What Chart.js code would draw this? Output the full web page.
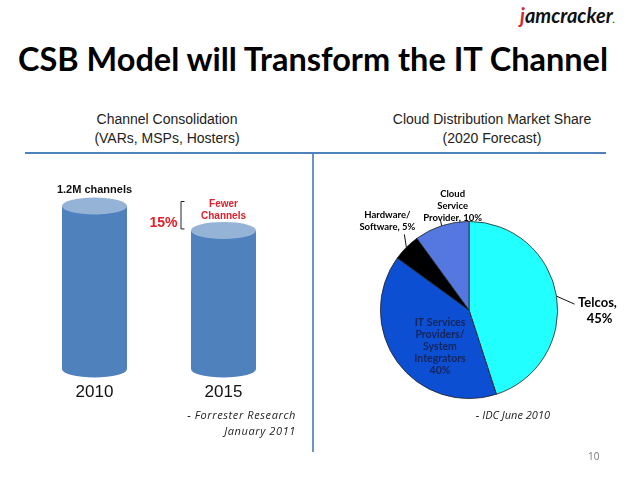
<!DOCTYPE html>
<html>
<head>
<meta charset="utf-8">
<script src="https://cdn.jsdelivr.net/npm/chart.js@4.4.1/dist/chart.umd.min.js"></script>
<style>
  body { margin: 0; background: #fff; }
  #slide { position: relative; width: 638px; height: 479px; overflow: hidden; background: #fff; }
  .txt { position: absolute; white-space: nowrap; }
  #title { left: 18px; top: 39px; font: bold 32px Lato, "Open Sans", sans-serif; color: #000; transform-origin: 0 0; }
  .sub { font: 14px "Liberation Sans", Arial, sans-serif; color: #222; text-align: center; line-height: 19px; }
  .src { font: italic 11px "Open Sans", sans-serif; color: #222; text-align: right; line-height: 16px; }
  #hline { position: absolute; left: 25px; top: 152px; width: 581px; height: 2px; background: #4f81bd; }
  #vline { position: absolute; left: 312px; top: 153px; width: 2px; height: 299px; background: #4f81bd; opacity: 0.85; }
  canvas { position: absolute; }
</style>
</head>
<body>
<div id="slide">
  <div class="txt" style="left:520px; top:3px; font: italic bold 20px Lato, sans-serif;"><span style="color:#d7262e">j</span><span style="color:#111">amcracker</span><span style="color:#111; font-size:9px">.</span></div>
  <div class="txt" id="title">CSB Model will Transform the IT Channel</div>
  <div class="txt sub" style="left:67px; top:110px; width:200px;">Channel Consolidation<br>(VARs, MSPs, Hosters)</div>
  <div class="txt sub" style="left:382px; top:110px; width:220px;">Cloud Distribution Market Share<br>(2020 Forecast)</div>
  <div id="hline"></div>
  <div id="vline"></div>
  <canvas id="barChart" width="315" height="479" style="left:0; top:0; width:315px; height:479px;"></canvas>
  <canvas id="pieChart" width="323" height="290" style="left:315px; top:155px; width:323px; height:290px;"></canvas>
  <div class="txt src" style="left:150px; top:407px; width:146px; letter-spacing:0.6px;">- Forrester Research<br>January 2011</div>
  <div class="txt src" style="left:470px; top:407px; width:80px;">- IDC June 2010</div>
  <div class="txt" style="left:588px; top:449px; font: 10px 'Open Sans', sans-serif; color:#777;">10</div>
</div>

<script>
// Channel consolidation (millions of channels)
const years = ["2010", "2015"];
const channels = [1.2, 1.02];

// Cloud distribution market share (2020 forecast)
const shareLabels = ["Telcos", "IT Services Providers/ System Integrators", "Hardware/ Software", "Cloud Service Provider"];
const shareValues = [45, 40, 5, 10];
const shareColors = ["#22ffff", "#0d4fd3", "#000000", "#5577e0"];

// Squeeze the title to the slide width (Calibri is narrower than Lato)
const title = document.getElementById("title");
const titleWidth = title.getBoundingClientRect().width;
title.style.transform = `scaleX(${590 / titleWidth})`;

// Draw each bar as a cylinder
const cylinderPlugin = {
  id: "cylinders",
  afterDatasetsDraw(chart) {
    const ctx = chart.ctx;
    const meta = chart.getDatasetMeta(0);
    meta.data.forEach((bar, i) => {
      const { x, y, base, width } = bar.getProps(["x", "y", "base", "width"], true);
      const rx = width / 2;
      const ry = 8.5;
      ctx.save();
      ctx.fillStyle = "#4f81bd";
      ctx.beginPath();
      ctx.moveTo(x - rx, y);
      ctx.lineTo(x - rx, base);
      ctx.ellipse(x, base, rx, ry, 0, Math.PI, 0, true);
      ctx.lineTo(x + rx, y);
      ctx.closePath();
      ctx.fill();

      ctx.fillStyle = "#95b3d7";
      ctx.beginPath();
      ctx.ellipse(x, y, rx, ry, 0, 0, Math.PI * 2);
      ctx.fill();

      // year label
      ctx.fillStyle = "#111";
      ctx.font = "17px 'Liberation Sans', Arial, sans-serif";
      ctx.textAlign = "center";
      ctx.textBaseline = "middle";
      ctx.fillText(years[i], x, base + 23);
      ctx.restore();
    });

    const b0 = meta.data[0];
    const b1 = meta.data[1];
    ctx.save();
    ctx.textAlign = "center";
    ctx.textBaseline = "middle";
    ctx.fillStyle = "#111";
    ctx.font = "bold 11px 'Liberation Sans', Arial, sans-serif";
    ctx.fillText("1.2M channels", b0.x, b0.y - 16);

    ctx.fillStyle = "#e0202a";
    ctx.font = "bold 10px 'Liberation Sans', Arial, sans-serif";
    ctx.fillText("Fewer", b1.x, b0.y - 2);
    ctx.fillText("Channels", b1.x, b0.y + 10);

    ctx.font = "bold 14px 'Liberation Sans', Arial, sans-serif";
    ctx.textAlign = "right";
    ctx.fillText("15%", b1.x - 46, b1.y - 7);

    // bracket
    const bx = b1.x - 43;
    ctx.strokeStyle = "#222";
    ctx.lineWidth = 1;
    ctx.beginPath();
    ctx.moveTo(bx + 4, b0.y - 4.5);
    ctx.lineTo(bx + 0.5, b0.y - 4.5);
    ctx.lineTo(bx + 0.5, b1.y - 1.5);
    ctx.lineTo(bx + 4, b1.y - 1.5);
    ctx.stroke();
    ctx.restore();
  },
};

new Chart(document.getElementById("barChart").getContext("2d"), {
  type: "bar",
  data: {
    labels: years,
    datasets: [
      {
        data: channels,
        backgroundColor: "rgba(0,0,0,0)",
        borderWidth: 0,
        barThickness: 65,
      },
    ],
  },
  options: {
    responsive: false,
    animation: false,
    layout: { padding: { left: 30, right: 27, top: 206, bottom: 110 } },
    plugins: { legend: { display: false }, tooltip: { enabled: false } },
    scales: {
      x: { display: false },
      y: { display: false, min: 0, max: 1.2 },
    },
  },
  plugins: [cylinderPlugin],
});

// Pie labels with leader lines
const pieLabelPlugin = {
  id: "pieLabels",
  afterDatasetsDraw(chart) {
    const ctx = chart.ctx;
    const arcs = chart.getDatasetMeta(0).data;
    const edge = (arc, r) => {
      const mid = (arc.startAngle + arc.endAngle) / 2;
      return [arc.x + Math.cos(mid) * r, arc.y + Math.sin(mid) * r];
    };
    ctx.save();
    ctx.textAlign = "center";
    ctx.textBaseline = "middle";
    ctx.strokeStyle = "#111";
    ctx.lineWidth = 1;

    // Telcos
    let a = arcs[0];
    let [ex, ey] = edge(a, a.outerRadius);
    ctx.beginPath();
    ctx.moveTo(ex, ey);
    ctx.lineTo(ex + 18, ey + 8);
    ctx.stroke();
    ctx.fillStyle = "#000";
    ctx.font = "bold 13px Lato, 'Open Sans', sans-serif";
    ctx.fillText("Telcos,", ex + 41, ey + 7);
    ctx.fillText(shareValues[0] + "%", ex + 43, ey + 23);

    // IT services inside the slice
    a = arcs[1];
    ctx.fillStyle = "#14255c";
    ctx.font = "bold 10.5px Lato, 'Open Sans', sans-serif";
    ["IT Services", "Providers/", "System", "Integrators", shareValues[1] + "%"].forEach((t, i) => {
      ctx.fillText(t, a.x - 29, a.y + 13 + i * 12);
    });

    // Hardware / Software
    a = arcs[2];
    [ex, ey] = edge(a, a.outerRadius);
    ctx.beginPath();
    ctx.moveTo(ex, ey);
    ctx.lineTo(ex - 2, ey - 13);
    ctx.stroke();
    ctx.fillStyle = "#000";
    ctx.font = "bold 9.5px Lato, 'Open Sans', sans-serif";
    ctx.fillText("Hardware/", ex - 19, ey - 32);
    ctx.fillText("Software, " + shareValues[2] + "%", ex - 19, ey - 20);

    // Cloud service provider
    a = arcs[3];
    [ex, ey] = edge(a, a.outerRadius);
    ctx.beginPath();
    ctx.moveTo(ex, ey);
    ctx.lineTo(ex - 1, ey - 5);
    ctx.stroke();
    ctx.fillText("Cloud", ex + 11, ey - 32);
    ctx.fillText("Service", ex + 11, ey - 20);
    ctx.fillText("Provider, " + shareValues[3] + "%", ex + 11, ey - 8);
    ctx.restore();
  },
};

new Chart(document.getElementById("pieChart").getContext("2d"), {
  type: "pie",
  data: {
    labels: shareLabels,
    datasets: [
      {
        data: shareValues,
        backgroundColor: shareColors,
        borderColor: "#222",
        borderWidth: 0.8,
      },
    ],
  },
  options: {
    responsive: false,
    animation: false,
    layout: { padding: { left: 65, right: 80, top: 66, bottom: 46 } },
    plugins: { legend: { display: false }, tooltip: { enabled: false } },
  },
  plugins: [pieLabelPlugin],
});
</script>
</body>
</html>
